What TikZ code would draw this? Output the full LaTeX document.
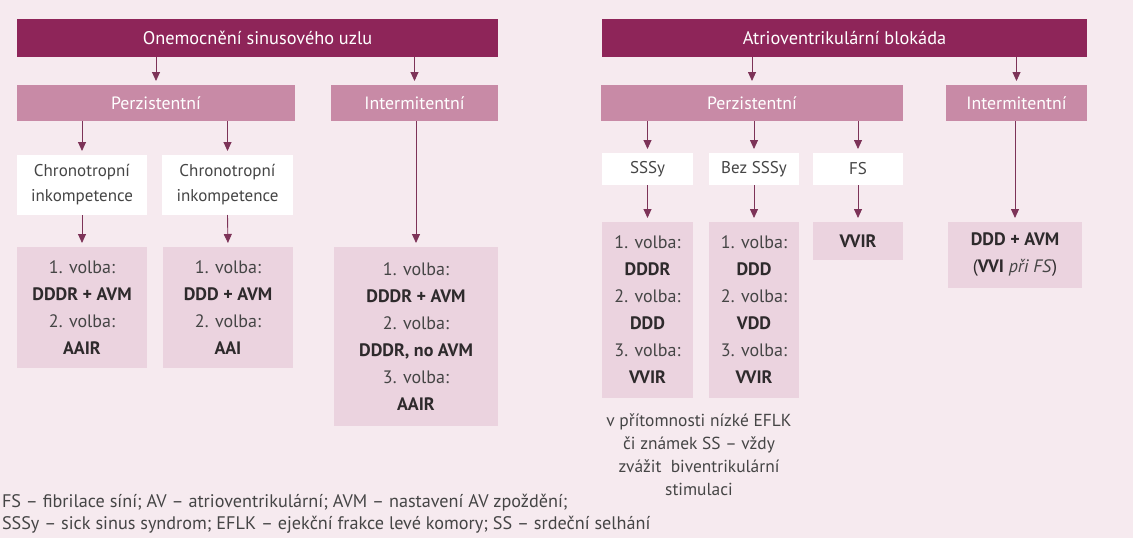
\documentclass[tikz,border=0pt]{standalone}
\usepackage{fontspec}
\setmainfont{PT Sans}
\usetikzlibrary{arrows.meta}
\definecolor{bg}{HTML}{F6EAEF}
\definecolor{dark}{HTML}{8E2559}
\definecolor{mid}{HTML}{C88AA6}
\definecolor{light}{HTML}{EBD3DF}
\definecolor{arrc}{HTML}{7D3358}
\definecolor{txt}{HTML}{454545}
\definecolor{btxt}{HTML}{2E2A2C}
\newcommand{\bt}[1]{\textbf{\color{btxt}#1}}
\tikzset{
  box/.style={inner sep=0pt, outer sep=0pt, align=center, text=txt},
  topbox/.style={box, fill=dark, text=white, minimum height=38pt, font=\fontsize{18.3}{20}\selectfont},
  midbox/.style={box, fill=mid, text=white, minimum height=36pt, font=\fontsize{17.8}{20}\selectfont},
  whitebox/.style={box, fill=white, font=\fontsize{17}{25}\selectfont},
  resbox/.style={box, fill=light, font=\fontsize{18}{27}\selectfont},
  arr/.style={draw=arrc, line width=0.9pt, -{Triangle[width=8pt,length=9pt]}, shorten >=4pt},
}
\begin{document}
\begin{tikzpicture}[x=1pt,y=-1pt]
\fill[bg] (0,0) rectangle (1133,538);
\useasboundingbox (0,0) rectangle (1133,538);

% top
\node[topbox, minimum width=481pt] (top1) at (257.5,38) {Onemocnění sinusového uzlu};
\node[topbox, minimum width=485pt] (top2) at (844.5,38) {Atrioventrikulární blokáda};

% second level
\node[midbox, minimum width=278pt] (perz1) at (156,103) {Perzistentní};
\node[midbox, minimum width=167pt] (int1) at (414.5,103) {Intermitentní};
\node[midbox, minimum width=302pt] (perz2) at (752,103) {Perzistentní};
\node[midbox, minimum width=141pt] (int2) at (1016.5,103) {Intermitentní};

% third level
\node[whitebox, minimum width=130pt, minimum height=60pt] (chr1) at (82,185) {Chronotropní\\inkompetence};
\node[whitebox, minimum width=131pt, minimum height=60pt] (chr2) at (227.5,185) {Chronotropní\\inkompetence};
\node[whitebox, minimum width=91pt, minimum height=32pt] (sssy) at (647.5,169) {SSSy};
\node[whitebox, minimum width=90pt, minimum height=32pt] (bez) at (754,169) {Bez SSSy};
\node[whitebox, minimum width=90pt, minimum height=32pt] (fs) at (858,169) {FS};

% results
\node[resbox, minimum width=130pt, minimum height=121pt] (res1) at (82,307.5)
  {1. volba:\\\bt{DDDR + AVM}\\2. volba:\\\bt{AAIR}};
\node[resbox, minimum width=130pt, minimum height=121pt] (res2) at (228,307.5)
  {1. volba:\\\bt{DDD + AVM}\\2. volba:\\\bt{AAI}};
\node[resbox, minimum width=164pt, minimum height=179pt] (res3) at (416,336.5)
  {1. volba:\\\bt{DDDR + AVM}\\2. volba:\\\bt{DDDR, no AVM}\\3. volba:\\\bt{AAIR}};
\node[resbox, minimum width=91pt, minimum height=176pt] (resS) at (647.5,310)
  {1. volba:\\\bt{DDDR}\\2. volba:\\\bt{DDD}\\3. volba:\\\bt{VVIR}};
\node[resbox, minimum width=90pt, minimum height=176pt] (resB) at (754,310)
  {1. volba:\\\bt{DDD}\\2. volba:\\\bt{VDD}\\3. volba:\\\bt{VVIR}};
\node[resbox, minimum width=90pt, minimum height=38pt] (resF) at (858,241) {\bt{VVIR}};
\node[resbox, minimum width=134pt, minimum height=66pt] (resI) at (1015,255)
  {\bt{DDD + AVM}\\{\color{btxt}(}\bt{VVI} \textit{při FS}{\color{btxt})}};

% note
\node[box, font=\fontsize{17.4}{23}\selectfont] (note) at (699,455)
  {v přítomnosti nízké EFLK\\či známek SS – vždy\\zvážit\ \ biventrikulární\\stimulaci};

% footnote
\node[box, anchor=west, align=left, font=\fontsize{18.2}{22}\selectfont] (foot) at (2,514)
  {FS – fibrilace síní; AV – atrioventrikulární; AVM – nastavení AV zpoždění;\\
   SSSy – sick sinus syndrom; EFLK – ejekční frakce levé komory; SS – srdeční selhání};

% arrows
\draw[arr] (top1.south -| perz1) -- (perz1.north);
\draw[arr] (top1.south -| int1) -- (int1.north);
\draw[arr] (top2.south -| perz2) -- (perz2.north);
\draw[arr] (top2.south -| int2) -- (int2.north);
\draw[arr] (perz1.south -| chr1) -- (chr1.north);
\draw[arr] (perz1.south -| chr2) -- (chr2.north);
\draw[arr] (chr1.south) -- (res1.north);
\draw[arr] (chr2.south) -- (res2.north);
\draw[arr] (int1.south -| res3) -- (res3.north);
\draw[arr] (perz2.south -| sssy) -- (sssy.north);
\draw[arr] (perz2.south -| bez) -- (bez.north);
\draw[arr] (perz2.south -| fs) -- (fs.north);
\draw[arr] (sssy.south) -- (resS.north);
\draw[arr] (bez.south) -- (resB.north);
\draw[arr] (fs.south) -- (resF.north);
\draw[arr] (int2.south -| resI) -- (resI.north);
\end{tikzpicture}
\end{document}
